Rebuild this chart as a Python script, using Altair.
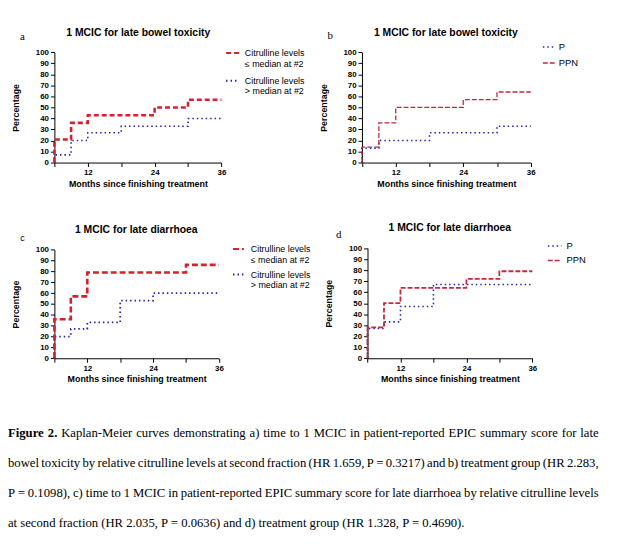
import altair as alt
import pandas as pd

SANS = "Liberation Sans, Arial, sans-serif"
SERIF = "Liberation Serif, Times New Roman, serif"
W, H = 609, 544

# ---------------- data ----------------
cit_names = ["Citrulline levels|≤ median at #2", "Citrulline levels|> median at #2"]
trt_names = ["P", "PPN"]

# panel a: late bowel toxicity by citrulline
a_low_months = [6, 6, 9, 12, 24, 30, 36]
a_low_pct = [0, 21, 36, 43, 50, 57, 57]
a_high_months = [6, 6, 9, 12, 18, 30, 36]
a_high_pct = [0, 7, 20, 27, 33, 40, 40]

# panel b: late bowel toxicity by treatment group
b_p_months = [6, 6, 9, 18, 30, 36]
b_p_pct = [0, 13, 20, 27, 33, 33]
b_ppn_months = [6, 6, 9, 12, 24, 30, 36]
b_ppn_pct = [0, 14, 36, 50, 57, 64, 64]

# panel c: late diarrhoea by citrulline
c_low_months = [6, 6, 9, 12, 30, 36]
c_low_pct = [0, 36, 57, 79, 86, 86]
c_high_months = [6, 6, 9, 12, 18, 24, 36]
c_high_pct = [0, 20, 27, 33, 53, 60, 60]

# panel d: late diarrhoea by treatment group
d_p_months = [6, 6, 9, 12, 18, 36]
d_p_pct = [0, 27, 33, 47, 67, 67]
d_ppn_months = [6, 6, 9, 12, 24, 30, 36]
d_ppn_pct = [0, 28, 50, 64, 72, 79, 79]

x_ticks = [6, 12, 18, 24, 30, 36]
y_ticks = [0, 10, 20, 30, 40, 50, 60, 70, 80, 90, 100]

titles = ["1 MCIC for late bowel toxicity", "1 MCIC for late bowel toxicity",
          "1 MCIC for late diarrhoea", "1 MCIC for late diarrhoea"]
letters = ["a", "b", "c", "d"]
x_title = "Months since finishing treatment"
y_title = "Percentage"

caption_bold = "Figure 2."
caption_lines = [
    "Kaplan-Meier curves demonstrating a) time to 1 MCIC in patient-reported EPIC summary score for late",
    "bowel toxicity by relative citrulline levels at second fraction (HR 1.659, P = 0.3217) and b) treatment group (HR 2.283,",
    "P = 0.1098), c) time to 1 MCIC in patient-reported EPIC summary score for late diarrhoea by relative citrulline levels",
    "at second fraction (HR 2.035, P = 0.0636) and d) treatment group (HR 1.328, P = 0.4690).",
]

RED = "#d2232f"
RED2 = "#c42a3a"
BLUE = "#2424b4"

dummy = pd.DataFrame({"k": [0]})


def panel(names, series, colors, dashes, widths, draw_order, xr, yr, leg):
    rows = []
    for name, (ms, ps) in zip(names, series):
        for m, p in zip(ms, ps):
            rows.append({"series": name, "month": m, "pct": p})
    df = pd.DataFrame(rows)
    xaxis = alt.Axis(
        orient="bottom", offset=yr[0] - H, values=x_ticks,
        labelExpr="datum.value % 12 == 0 ? datum.label : ''",
        title=x_title, grid=False, domainColor="black", tickColor="black",
        tickSize=4, labelFont=SANS, labelFontSize=8, labelFontWeight="bold",
        labelColor="black", labelPadding=2, labelFlush=False, labelOverlap=False,
        titleFont=SANS, titleFontSize=9, titleFontWeight="bold", titleColor="black",
        titlePadding=3,
    )
    yaxis = alt.Axis(
        orient="left", offset=-xr[0], values=y_ticks, title=y_title, grid=False,
        domainColor="black", tickColor="black", tickSize=4, labelFont=SANS,
        labelFontSize=8, labelFontWeight="bold", labelColor="black", labelPadding=2,
        labelFlush=False, labelOverlap=False, titleFont=SANS, titleFontSize=9,
        titleFontWeight="bold", titleColor="black", titlePadding=15,
    )
    legend = alt.Legend(
        title=None, orient="none", legendX=leg["x"], legendY=leg["y"],
        symbolType="stroke", symbolSize=leg["size"], symbolStrokeWidth=leg["sw"],
        labelFont=SANS, labelFontSize=leg["fs"], labelColor="black",
        labelExpr="split(datum.label, '|')", rowPadding=leg["rp"],
        labelOffset=leg["lo"], padding=0,
    )
    enc = dict(
        x=alt.X("month:Q", scale=alt.Scale(domain=[6, 36], range=list(xr), nice=False, zero=False), axis=xaxis),
        y=alt.Y("pct:Q", scale=alt.Scale(domain=[0, 100], range=list(yr), nice=False, zero=False), axis=yaxis),
        color=alt.Color("series:N", scale=alt.Scale(domain=names, range=colors), legend=legend),
        strokeDash=alt.StrokeDash("series:N", scale=alt.Scale(domain=names, range=dashes), legend=legend),
    )
    layers = []
    for i in draw_order:
        layers.append(
            alt.Chart(df)
            .transform_filter(alt.datum.series == names[i])
            .mark_line(interpolate="step-after", strokeWidth=widths[i])
            .encode(**enc)
        )
    return alt.layer(*layers)


def txt(s, x, y, size, weight="normal", font=SANS, align="center", baseline="middle"):
    return alt.Chart(dummy).mark_text(
        text=s, fontSize=size, fontWeight=weight, font=font, align=align,
        baseline=baseline, color="black",
    ).encode(x=alt.value(x), y=alt.value(y))


# --- Times (Liberation Serif) advance widths, per 1000 em, to justify the caption ---
TIMES = {
    " ": 250, "(": 333, ")": 333, ",": 250, ".": 250, "-": 333, "=": 564, "#": 500,
    "a": 444, "b": 500, "c": 444, "d": 500, "e": 444, "f": 333, "g": 500, "h": 500,
    "i": 278, "j": 278, "k": 500, "l": 278, "m": 778, "n": 500, "o": 500, "p": 500,
    "q": 500, "r": 333, "s": 389, "t": 278, "u": 500, "v": 500, "w": 722, "x": 500,
    "y": 500, "z": 444,
    "A": 722, "B": 667, "C": 667, "D": 722, "E": 611, "F": 556, "G": 722, "H": 722,
    "I": 333, "J": 389, "K": 722, "L": 611, "M": 889, "N": 722, "O": 722, "P": 556,
    "Q": 722, "R": 667, "S": 556, "T": 611, "U": 722, "V": 722, "W": 944, "X": 722,
    "Y": 722, "Z": 611,
}
TIMES_BOLD = {"F": 611, "i": 278, "g": 500, "u": 556, "r": 444, "e": 444, "2": 500, ".": 250, " ": 250}


def wlen(word, size, bold=False):
    tab = TIMES_BOLD if bold else TIMES
    return sum(tab.get(ch, 500) for ch in word) * size / 1000.0


CAP_SIZE = 12.85
CAP_RIGHT = 598.5
cap_baselines = [431, 461.5, 492, 522.5]

word_layers = []
for li, line in enumerate(caption_lines):
    words = line.split(" ")
    bold_words = caption_bold.split(" ") if li == 0 else []
    allw = [(w, True) for w in bold_words] + [(w, False) for w in words]
    y = cap_baselines[li]
    if li == len(caption_lines) - 1:
        word_layers.append(txt(line, 0, y, CAP_SIZE, "normal", SERIF, "left", "alphabetic"))
        continue
    natural = sum(wlen(w, CAP_SIZE, b) for w, b in allw)
    gap = (CAP_RIGHT - natural) / (len(allw) - 1)
    x = 0.0
    for w, b in allw:
        word_layers.append(txt(w, round(x, 2), y, CAP_SIZE, "bold" if b else "normal", SERIF, "left", "alphabetic"))
        x += wlen(w, CAP_SIZE, b) + gap


pa = panel(cit_names, [(a_low_months, a_low_pct), (a_high_months, a_high_pct)],
           [RED, BLUE], [[5, 3], [1.5, 3]], [2.6, 1.6], [1, 0],
           (47, 216.3), (153, 41.3),
           dict(x=220, y=34.5, size=169, sw=2, fs=9, rp=4, lo=5))
pb = panel(trt_names, [(b_p_months, b_p_pct), (b_ppn_months, b_ppn_pct)],
           [BLUE, RED2], [[1.5, 3], [5, 2]], [1.6, 1.3], [0, 1],
           (358.7, 529.7), (153, 41.3),
           dict(x=541, y=29, size=144, sw=1.5, fs=9.5, rp=4, lo=3))
pc = panel(cit_names, [(c_low_months, c_low_pct), (c_high_months, c_high_pct)],
           [RED, BLUE], [[6, 3], [1.5, 3]], [2.6, 1.8], [1, 0],
           (47, 213.7), (351.3, 241.3),
           dict(x=227, y=234, size=121, sw=2, fs=9, rp=3, lo=6))
pd_ = panel(trt_names, [(d_p_months, d_p_pct), (d_ppn_months, d_ppn_pct)],
            [BLUE, RED2], [[1.5, 3], [5, 2]], [1.6, 1.8], [0, 1],
            (364.3, 531.3), (351.3, 239.7),
            dict(x=546, y=229.5, size=196, sw=1.5, fs=9.5, rp=1.7, lo=4))

texts = [
    txt(titles[0], 132, 22, 10.5, "bold"),
    txt(titles[1], 443.7, 21.6, 10.5, "bold"),
    txt(titles[2], 130, 221.2, 10.5, "bold"),
    txt(titles[3], 447.7, 219.5, 10.5, "bold"),
    txt(letters[0], 14.7, 26, 11, font=SERIF),
    txt(letters[1], 326.5, 25, 11, font=SERIF),
    txt(letters[2], 14.7, 229.3, 9, font=SANS),
    txt(letters[3], 335, 226, 11, font=SERIF),
] + word_layers

chart = (
    alt.layer(pa, pb, pc, pd_, *texts)
    .resolve_scale(x="independent", y="independent", color="independent", strokeDash="independent")
    .resolve_axis(x="independent", y="independent")
    .resolve_legend(color="independent", strokeDash="independent")
    .properties(width=W, height=H, autosize=alt.AutoSizeParams(type="none"), padding=0,
                background="white")
    .configure_view(stroke=None)
)

chart.save("out.html", embed_options={"renderer": "svg", "actions": False})
